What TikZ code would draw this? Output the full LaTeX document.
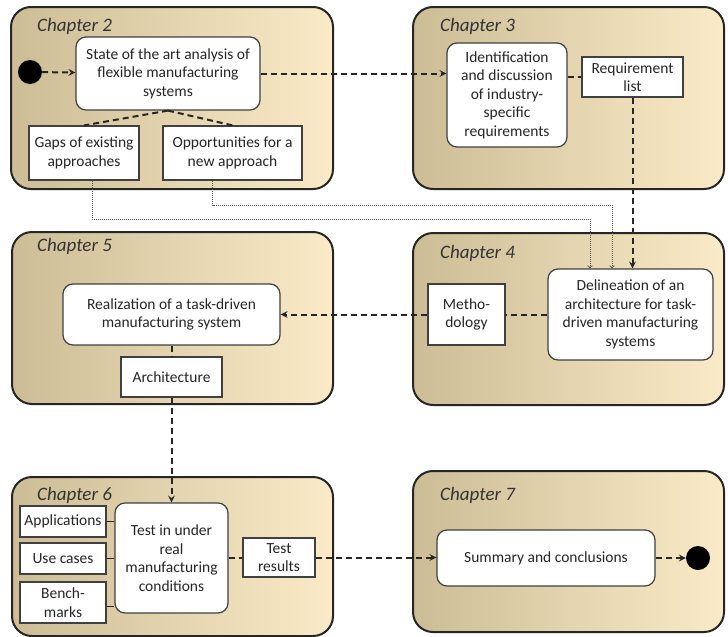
\documentclass[tikz,border=0pt]{standalone}
\usepackage{fontspec}
\setmainfont{Carlito}
\definecolor{tanL}{RGB}{205,189,150}
\definecolor{tanM}{RGB}{243,236,217}
\definecolor{tanR}{RGB}{250,234,199}
\tikzset{
	chapter/.style={draw=black!85, line width=2pt, rounded corners=20pt, left color=tanL, middle color=tanM, right color=tanR},
	title/.style={anchor=west, inner sep=0pt, text=black!80, font=\fontsize{19}{22}\selectfont\itshape},
	task/.style={draw=black!75, line width=1.2pt, rounded corners=10pt, fill=white, align=center, text=black!85},
	result/.style={draw=black!75, line width=1.2pt, rectangle, fill=white, align=center, text=black!85},
	dot/.style={circle, fill=black, minimum size=24pt, inner sep=0pt},
	flow/.style={line width=2pt, dash pattern=on 6pt off 4pt, black!85},
	hint/.style={line width=1pt, dash pattern=on 1pt off 1pt, black!65},
	tie/.style={line width=1.5pt, black!85}
}
\begin{document}
\begin{tikzpicture}[x=1pt, y=-1pt, font=\fontsize{15.5}{18.5}\selectfont]
				\useasboundingbox (0,0) rectangle (728,637);
				% chapters
				\node[chapter, minimum width=322, minimum height=182] (C2)at(172, 98) {};
				\node[chapter, minimum width=311, minimum height=182] (C3)at(568.5, 98) {};
				\node[chapter, minimum width=321, minimum height=172] (C5)at(172.5, 318) {};
				\node[chapter, minimum width=311, minimum height=172] (C4)at(568.5, 319) {};
				\node[chapter, minimum width=321, minimum height=159] (C6)at(172.5, 556.5) {};
				\node[chapter, minimum width=311, minimum height=161] (C7)at(568.5, 551.5) {};
				\node[title] (T2)at(37, 26) {Chapter 2};
				\node[title] (T3)at(440, 26) {Chapter 3};
				\node[title] (T5)at(37, 246) {Chapter 5};
				\node[title] (T4)at(440, 253) {Chapter 4};
				\node[title] (T6)at(37, 495) {Chapter 6};
				\node[title] (T7)at(440, 495) {Chapter 7};
				% chapter 2
				\node[dot] (Start)at(30, 72) {};
				\node[task, minimum width=184, minimum height=73] (SotA)at(168, 73.5) {State of the art analysis of\\flexible manufacturing\\systems};
				\node[result, minimum width=110, minimum height=54] (Gaps)at(84, 153) {Gaps of existing\\approaches};
				\node[result, minimum width=139, minimum height=54] (Opp)at(232.5, 153) {Opportunities for a\\new approach};
				% chapter 3
				\node[task, minimum width=120, minimum height=104] (Ident)at(507, 95) {Identification\\and discussion\\of industry-\\specific\\requirements};
				\node[result, minimum width=101, minimum height=40] (ReqList)at(632.5, 77) {Requirement\\list};
				% chapter 4
				\node[task, minimum width=165, minimum height=91] (Delin)at(630.5, 314.5) {Delineation of an\\architecture for task-\\driven manufacturing\\systems};
				\node[result, minimum width=77, minimum height=61] (Meth)at(466.5, 314.5) {Metho-\\dology};
				% chapter 5
				\node[task, minimum width=217, minimum height=61] (Real)at(171.5, 314.5) {Realization of a task-driven\\manufacturing system};
				\node[result, minimum width=101, minimum height=40] (Arch)at(171.5, 377) {Architecture};
				% chapter 6
				\node[task, minimum width=113, minimum height=110] (Test)at(171.5, 558) {Test in under\\real\\manufacturing\\conditions};
				\node[result, minimum width=86, minimum height=31] (App)at(63, 521.5) {Applications};
				\node[result, minimum width=86, minimum height=31] (Use)at(63, 558.5) {Use cases};
				\node[result, minimum width=86, minimum height=41] (Bench)at(63, 602.5) {Bench-\\marks};
				\node[result, minimum width=72, minimum height=39] (Res)at(279, 557.5) {Test\\results};
				% chapter 7
				\node[task, minimum width=218, minimum height=56] (Sum)at(546, 558) {Summary and conclusions};
				\node[dot] (End)at(698, 558) {};
				% connectors
				\draw[flow, ->, >=stealth] (Start) -- (SotA);
				\draw[flow, ->, >=stealth] (SotA.east) -- (SotA.east -| Ident.west);
				\draw[flow] (SotA.south) -- (Gaps.north);
				\draw[flow] (SotA.south) -- (Opp.north);
				\draw[flow] (Ident.east |- ReqList.west) -- (ReqList.west);
				\draw[flow, ->, >=stealth] (ReqList.south) -- (ReqList.south |- Delin.north);
				\draw[hint, ->, >=to] ([xshift=8]Gaps.south) |- (590, 219) -- (590, 269 |- Delin.north);
				\draw[hint, ->, >=to] ([xshift=-20]Opp.south) |- (612, 205) -- (612, 269 |- Delin.north);
				\draw[flow] (Delin.west) -- (Meth.east);
				\draw[flow, ->, >=stealth] (Meth.west) -- (Real.east);
				\draw[flow] (Real.south) -- (Arch.north);
				\draw[flow, ->, >=stealth] (Arch.south) -- (Test.north);
				\draw[tie] (App.east) -- (App.east -| Test.west);
				\draw[tie] (Use.east) -- (Use.east -| Test.west);
				\draw[tie] ([yshift=-4]Bench.east) -- ([yshift=-4]Bench.east -| Test.west);
				\draw[flow] (Test.east |- Res.west) -- (Res.west);
				\draw[flow, ->, >=stealth] (Res.east) -- (Res.east -| Sum.west);
				\draw[flow, ->, >=stealth] (Sum) -- (End);
			\end{tikzpicture}
\end{document}
